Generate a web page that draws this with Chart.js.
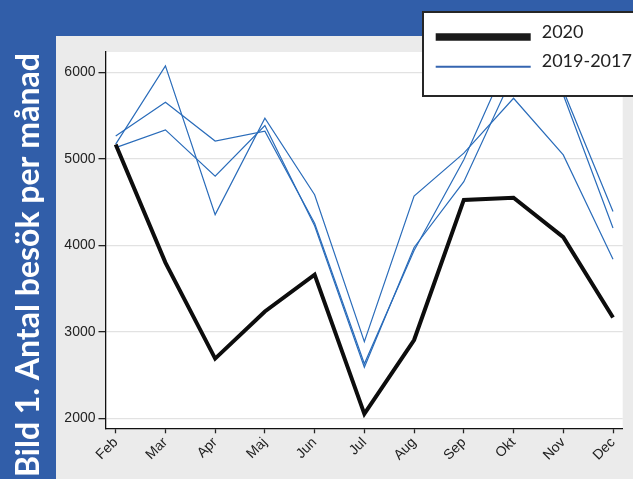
<!DOCTYPE html>
<html>
<head>
<meta charset="utf-8">
<style>
  html, body { margin: 0; padding: 0; background: #315ea9; }
  #wrap { width: 633px; height: 479px; position: relative; }
</style>
<script src="https://cdn.jsdelivr.net/npm/chart.js@4.4.1/dist/chart.umd.min.js"></script>
</head>
<body>
<div id="wrap"><canvas id="c" width="633" height="479"></canvas></div>
<script>
// Monthly visits, Feb–Dec
const months = ['Feb', 'Mar', 'Apr', 'Maj', 'Jun', 'Jul', 'Aug', 'Sep', 'Okt', 'Nov', 'Dec'];
const visits2020 = [5165, 3800, 2690, 3235, 3660, 2050, 2905, 4525, 4550, 4095, 3165];
const visits2019 = [5170, 6075, 4355, 5470, 4585, 2885, 4570, 5065, 5700, 5045, 3840];
const visits2018 = [5265, 5655, 5205, 5320, 4255, 2630, 3940, 4990, 6280, 5790, 4390];
const visits2017 = [5130, 5335, 4800, 5385, 4225, 2590, 3975, 4735, 5980, 5740, 4200];
const yTicks = [2000, 3000, 4000, 5000, 6000];

const titleText = 'Bild 1. Antal besök per månad';
const legendItems = ['2020', '2019-2017'];

const BAND = '#315ea9';
const PANEL = '#ebebeb';
const LINE_BLUE = '#2a6cba';
const TICK_FONT = { family: 'Liberation Sans, Arial, sans-serif', size: 14 };

const toPoints = arr => arr.map((v, i) => ({ x: i, y: v }));

// Blue frame, grey panel, white plotting area and the vertical title
const backdrop = {
  id: 'backdrop',
  beforeDraw(chart) {
    const { ctx, chartArea: a } = chart;
    ctx.save();
    ctx.fillStyle = BAND;
    ctx.fillRect(0, 0, 633, 479);
    ctx.fillStyle = PANEL;
    ctx.fillRect(56, 36, 577, 443);
    ctx.fillStyle = '#ffffff';
    ctx.fillRect(a.left, a.top, a.right - a.left, a.bottom - a.top);

    ctx.translate(38.5, 477);
    ctx.rotate(-Math.PI / 2);
    let size = 29;
    ctx.font = `700 ${size}px Lato, sans-serif`;
    const w = ctx.measureText(titleText).width;
    size = size * 424 / w;
    ctx.font = `700 ${size}px Lato, sans-serif`;
    ctx.fillStyle = '#ffffff';
    ctx.textAlign = 'left';
    ctx.textBaseline = 'alphabetic';
    ctx.fillText(titleText, 0, 0);
    ctx.restore();
  }
};

// Boxed legend laid over the top-right corner
const boxLegend = {
  id: 'boxLegend',
  afterDraw(chart) {
    const { ctx } = chart;
    ctx.save();
    ctx.fillStyle = '#ffffff';
    ctx.fillRect(423, 12, 215, 84);
    ctx.strokeStyle = '#262626';
    ctx.lineWidth = 2;
    ctx.strokeRect(423, 12, 215, 84);

    ctx.lineCap = 'butt';
    ctx.strokeStyle = '#1a1a1a';
    ctx.lineWidth = 7.3;
    ctx.beginPath();
    ctx.moveTo(435.7, 37);
    ctx.lineTo(530.7, 37);
    ctx.stroke();

    ctx.strokeStyle = '#3565b0';
    ctx.lineWidth = 2;
    ctx.beginPath();
    ctx.moveTo(435.7, 66.7);
    ctx.lineTo(530.7, 66.7);
    ctx.stroke();

    ctx.fillStyle = '#222222';
    ctx.font = '400 18px Lato, sans-serif';
    ctx.textAlign = 'left';
    ctx.textBaseline = 'alphabetic';
    ctx.fillText(legendItems[0], 541.7, 38.3);
    ctx.fillText(legendItems[1], 541.7, 66.7);
    ctx.restore();
  }
};

new Chart(document.getElementById('c'), {
  type: 'line',
  data: {
    datasets: [
      { label: '2020', data: toPoints(visits2020), borderColor: '#0d0d0d', borderWidth: 4, order: 0 },
      { label: '2019', data: toPoints(visits2019), borderColor: LINE_BLUE, borderWidth: 1.2, order: 1 },
      { label: '2018', data: toPoints(visits2018), borderColor: LINE_BLUE, borderWidth: 1.2, order: 1 },
      { label: '2017', data: toPoints(visits2017), borderColor: LINE_BLUE, borderWidth: 1.2, order: 1 }
    ]
  },
  options: {
    responsive: false,
    animation: false,
    devicePixelRatio: 1,
    elements: { point: { radius: 0 }, line: { tension: 0, fill: false } },
    layout: { padding: { left: 55.5, top: 52, right: 10.3, bottom: 10.7 } },
    plugins: { legend: { display: false }, tooltip: { enabled: false } },
    scales: {
      x: {
        type: 'linear',
        min: -0.205,
        max: 10.195,
        afterBuildTicks: s => { s.ticks = months.map((m, i) => ({ value: i })); },
        afterFit: s => { s.height = 40; },
        grid: { drawOnChartArea: false, tickLength: 5, tickColor: '#222', tickWidth: 1.3 },
        border: { color: '#111', width: 1.3 },
        ticks: {
          autoSkip: false, maxRotation: 45, minRotation: 45, padding: 1,
          font: TICK_FONT, color: '#222',
          callback: v => months[v]
        }
      },
      y: {
        min: 1884,
        max: 6235,
        afterBuildTicks: s => { s.ticks = yTicks.map(v => ({ value: v })); },
        afterFit: s => { s.width = 50; },
        grid: { color: '#e2e2e2', lineWidth: 1.3, tickLength: 7, tickColor: '#222', tickWidth: 1.3 },
        border: { color: '#111', width: 1.3 },
        ticks: { padding: 3, font: TICK_FONT, color: '#222', callback: v => String(v) }
      }
    }
  },
  plugins: [backdrop, boxLegend]
});
</script>
</body>
</html>
